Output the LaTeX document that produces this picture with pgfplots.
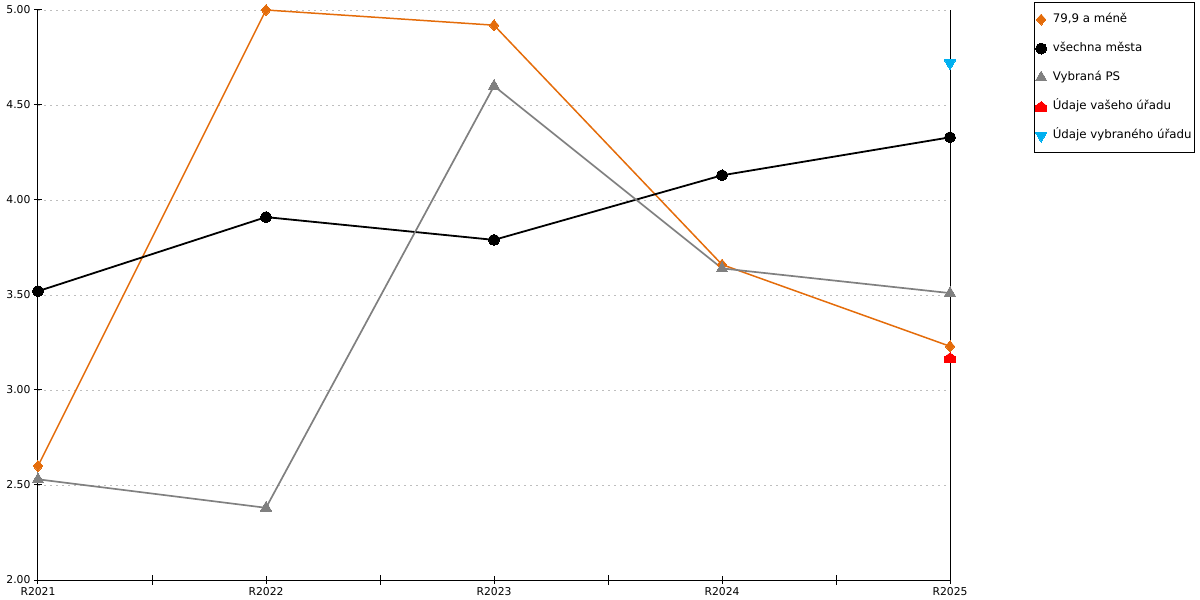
\documentclass[border=0pt]{standalone}
\usepackage{pgfplots}
\pgfplotsset{compat=1.18}
\usepackage{fontspec}
\setmainfont{DejaVu Sans}
\definecolor{corange}{RGB}{228,108,10}
\definecolor{cgray}{RGB}{128,128,128}
\definecolor{cblue}{RGB}{0,176,240}
\definecolor{cred}{RGB}{255,0,0}
\definecolor{cgrid}{RGB}{190,190,190}
\pgfdeclareplotmark{house*}{%
  \pgfpathmoveto{\pgfqpoint{-\pgfplotmarksize}{-0.9\pgfplotmarksize}}%
  \pgfpathlineto{\pgfqpoint{\pgfplotmarksize}{-0.9\pgfplotmarksize}}%
  \pgfpathlineto{\pgfqpoint{\pgfplotmarksize}{0.15\pgfplotmarksize}}%
  \pgfpathlineto{\pgfqpoint{0pt}{0.9\pgfplotmarksize}}%
  \pgfpathlineto{\pgfqpoint{-\pgfplotmarksize}{0.15\pgfplotmarksize}}%
  \pgfpathclose
  \pgfusepathqfillstroke}
\begin{document}
\begin{tikzpicture}[x=1pt,y=1pt]
\useasboundingbox (0,0) rectangle (1200,600);
\begin{axis}[
  at={(38pt,20pt)}, anchor=south west,
  scale only axis, width=912pt, height=570pt,
  xmin=0, xmax=4, ymin=2, ymax=5,
  clip=false,
  axis x line=bottom, axis y line=left,
  axis line style={black, line width=1pt, -},
  xtick={0,1,2,3,4},
  xticklabels={R2021,R2022,R2023,R2024,R2025},
  minor xtick={0.5,1.5,2.5,3.5},
  ytick={2,2.5,3,3.5,4,4.5,5},
  yticklabel={\pgfmathprintnumber[fixed,fixed zerofill,precision=2,assume math mode=true]{\tick}},
  tick align=center,
  major tick length=8pt, minor tick length=9pt,
  every tick/.style={black, line width=1pt},
  ymajorgrids,
  major grid style={cgrid, dash pattern=on 2pt off 4pt, line width=0.8pt},
  yticklabel style={font=\fontsize{10.8}{12}\selectfont, xshift=0pt},
  xticklabel style={font=\fontsize{10.8}{12}\selectfont},
  legend image code/.code={\draw[#1, only marks] plot coordinates {(0pt,0pt)};},
  legend cell align=left,
  legend style={at={(1.0921,1.0140)}, anchor=north west, draw=black, line width=1pt,
    font=\fontsize{11.8}{13}\selectfont, inner xsep=1pt, inner ysep=9pt,
    row sep=13pt, column sep=4pt,
    nodes={inner sep=2pt, text height=9pt, text depth=3pt}},
]
\addplot[color=corange, line width=1.5pt, mark=diamond*, mark size=5.5pt, mark options={xscale=1.15, fill=corange, draw=corange, line width=0pt}]
  coordinates {(0,2.60) (1,5.00) (2,4.92) (3,3.66) (4,3.23)};
\addlegendentry{79,9 a méně}
\addplot[color=black, line width=1.8pt, mark=*, mark size=5.5pt, mark options={fill=black, line width=0pt}]
  coordinates {(0,3.52) (1,3.91) (2,3.79) (3,4.13) (4,4.33)};
\addlegendentry{všechna města}
\addplot[color=cgray, line width=1.7pt, mark=triangle*, mark size=6.5pt, mark options={fill=cgray, line width=0pt}]
  coordinates {(0,2.53) (1,2.38) (2,4.60) (3,3.64) (4,3.51)};
\addlegendentry{Vybraná PS}
\addplot[only marks, color=cred, mark=house*, mark size=5.5pt, mark options={fill=cred, line width=0pt}]
  coordinates {(4,3.17)};
\addlegendentry{Údaje vašeho úřadu}
\addplot[only marks, color=cblue, mark=triangle*, mark size=6.5pt, mark options={rotate=180, fill=cblue, line width=0pt}]
  coordinates {(4,4.72)};
\addlegendentry{Údaje vybraného úřadu}
\draw[black, line width=1pt] (rel axis cs:1,0) -- (rel axis cs:1,1);
\end{axis}
\end{tikzpicture}
\end{document}
